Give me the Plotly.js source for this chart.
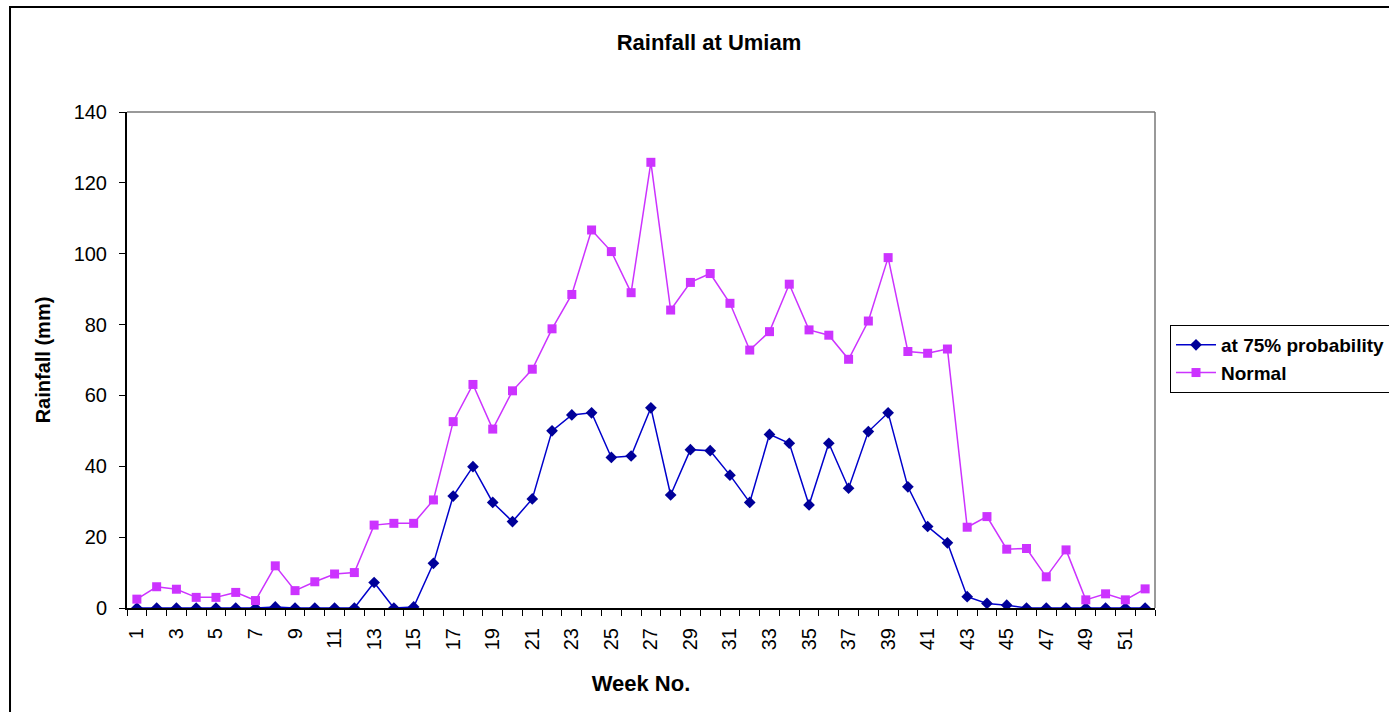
<!DOCTYPE html>
<html>
<head>
<meta charset="utf-8">
<script src="https://cdn.plot.ly/plotly-3.0.1.min.js"></script>
<style>html,body{margin:0;padding:0;background:#fff;}#chart{width:1389px;height:712px;}</style>
</head>
<body>
<div id="chart"></div>
<script>
const weeks = Array.from({length: 52}, (_, i) => i + 1);
const prob75 = [0,0,0,0,0,0,0,0.3,0,0,0,0,7.2,0,0.3,12.6,31.6,39.9,29.8,24.4,30.8,50.0,54.5,55.1,42.5,42.9,56.5,31.9,44.7,44.4,37.5,29.8,49.0,46.5,29.1,46.5,33.8,49.8,55.1,34.2,23.0,18.4,3.2,1.3,0.8,0,0,0,0,0,0,0];
const normal = [2.5,6.0,5.3,3.0,3.0,4.4,2.1,11.9,4.9,7.4,9.6,10.0,23.4,23.9,23.9,30.5,52.6,63.1,50.5,61.3,67.4,78.8,88.5,106.7,100.6,89.0,125.8,84.1,91.9,94.4,86.0,72.8,78.0,91.4,78.5,77.0,70.2,81.0,98.9,72.4,71.9,73.1,22.8,25.8,16.6,16.8,8.8,16.4,2.3,4.0,2.3,5.4];
const xTickVals = weeks.filter(w => w % 2 === 1);
const xTickText = xTickVals.map(String);
const seriesNames = ['at 75% probability', 'Normal'];

const font = 'Liberation Sans, Arial, sans-serif';
const traces = [
  {x: weeks, y: prob75, name: seriesNames[0], type: 'scatter', mode: 'lines+markers',
   line: {color: '#0000cc', width: 1.5}, marker: {symbol: 'diamond', size: 9, color: '#000099'}},
  {x: weeks, y: normal, name: seriesNames[1], type: 'scatter', mode: 'lines+markers',
   line: {color: '#cc33ff', width: 1.5}, marker: {symbol: 'square', size: 9, color: '#cc33ff'}}
];
const layout = {
  width: 1389, height: 712,
  margin: {l: 127, r: 234, t: 112, b: 104, autoexpand: false},
  paper_bgcolor: '#fff', plot_bgcolor: '#fff',
  font: {family: font, size: 16, color: '#000'},
  title: {text: '<b>Rainfall at Umiam</b>', font: {family: font, size: 22, color: '#000'},
          x: 0.5104, xref: 'container', xanchor: 'center', y: 0.941, yref: 'container', yanchor: 'middle'},
  showlegend: true,
  legend: {x: 1.0146, y: 0.5706, xanchor: 'left', yanchor: 'top', bordercolor: '#000', borderwidth: 1,
           bgcolor: '#fff', itemwidth: 40, font: {family: font, size: 19, color: '#000', weight: 'bold'}, tracegroupgap: 0},
  xaxis: {range: [0.5, 52.5], tickmode: 'array', tickvals: xTickVals, ticktext: xTickText, tickangle: -90,
          ticks: '', showgrid: false, zeroline: false, showline: true, linecolor: '#000', linewidth: 2,
          automargin: false,
          tickfont: {family: font, size: 20, color: '#000'}, ticklabelstandoff: 10,
          minor: {tick0: 0.5, dtick: 1, ticks: 'outside', ticklen: 6, tickcolor: '#000', tickwidth: 1, showgrid: false},
          title: {text: '<b>Week No.</b>', font: {family: font, size: 22, color: '#000'}, standoff: 26}},
  yaxis: {range: [0, 140], dtick: 20, ticks: 'outside', ticklen: 6, tickcolor: '#000', showgrid: false,
          zeroline: false, showline: true, linecolor: '#000', linewidth: 2, automargin: false,
          tickfont: {family: font, size: 20, color: '#000'}, ticklabelstandoff: 8,
          title: {text: '<b>Rainfall (mm)</b>', font: {family: font, size: 20, color: '#000'}, standoff: 18}},
  shapes: [
    {type: 'line', xref: 'paper', yref: 'paper', x0: 0, x1: 1, y0: 1, y1: 1, line: {color: '#777', width: 1.5}},
    {type: 'line', xref: 'paper', yref: 'paper', x0: 1, x1: 1, y0: 0, y1: 1, line: {color: '#777', width: 1.5}},
    {type: 'rect', xref: 'paper', yref: 'paper', x0: -0.1138, x1: 1.24, y0: -0.24, y1: 1.2117, line: {color: '#000', width: 2}}
  ]
};
Plotly.newPlot('chart', traces, layout, {displayModeBar: false, staticPlot: true});
</script>
</body>
</html>
